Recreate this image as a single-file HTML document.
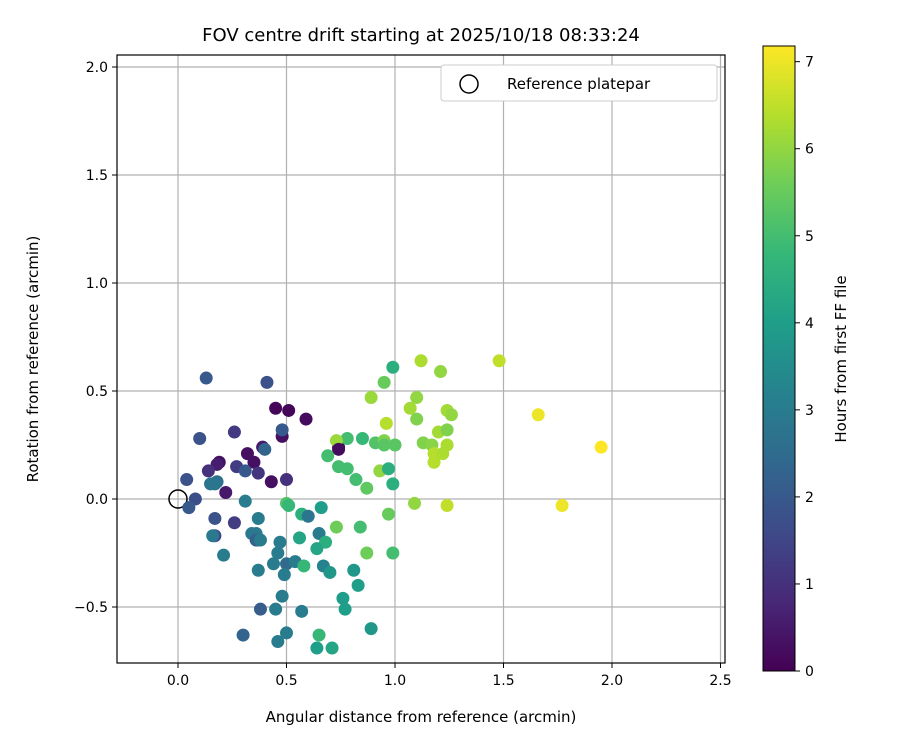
<!DOCTYPE html>
<html><head><meta charset="utf-8"><style>
body{margin:0;background:#fff;font-family:"Liberation Sans","DejaVu Sans",sans-serif}
</style></head><body>
<svg id="chart" width="900" height="750" xmlns="http://www.w3.org/2000/svg" font-family="DejaVu Sans, Liberation Sans, sans-serif"></svg>
<script>
const xs=[0.45,0.51,0.59,0.48,0.74,0.13,0.41,0.48,0.10,0.26,0.39,0.40,0.32,0.35,0.19,0.18,0.14,0.27,0.31,0.37,0.43,0.50,0.04,0.15,0.18,0.17,0.22,0.08,0.05,0.31,0.50,0.51,0.57,0.60,0.66,0.17,0.26,0.37,
0.97,0.17,0.37,0.36,0.73,0.84,0.16,0.34,0.36,0.38,0.47,0.65,0.56,0.68,0.64,0.87,0.99,0.46,0.21,0.44,0.50,0.54,0.58,0.67,0.70,0.49,0.37,0.81,0.83,0.48,0.76,0.77,0.38,0.45,0.57,0.89,0.30,0.50,0.46,0.65,0.64,0.71,
0.99,1.12,1.21,0.95,0.89,1.10,1.07,1.24,1.26,0.96,1.10,0.78,0.73,0.85,0.91,0.95,0.95,1.00,0.74,0.69,1.20,1.24,1.13,1.17,1.24,1.18,1.22,1.18,0.74,0.78,0.82,0.87,0.93,0.97,0.99,1.09,1.24,
1.48,1.66,1.95,1.77];
const ys=[0.42,0.41,0.37,0.29,0.24,0.56,0.54,0.32,0.28,0.31,0.24,0.23,0.21,0.17,0.17,0.16,0.13,0.15,0.13,0.12,0.08,0.09,0.09,0.07,0.08,0.07,0.03,0.00,-0.04,-0.01,-0.02,-0.03,-0.07,-0.08,-0.04,-0.09,-0.11,-0.09,
-0.07,-0.17,-0.19,-0.16,-0.13,-0.13,-0.17,-0.16,-0.19,-0.19,-0.20,-0.16,-0.18,-0.20,-0.23,-0.25,-0.25,-0.25,-0.26,-0.30,-0.30,-0.29,-0.31,-0.31,-0.34,-0.35,-0.33,-0.33,-0.40,-0.45,-0.46,-0.51,-0.51,-0.51,-0.52,-0.60,-0.63,-0.62,-0.66,-0.63,-0.69,-0.69,
0.61,0.64,0.59,0.54,0.47,0.47,0.42,0.41,0.39,0.35,0.37,0.28,0.27,0.28,0.26,0.27,0.25,0.25,0.23,0.20,0.31,0.32,0.26,0.25,0.25,0.21,0.21,0.17,0.15,0.14,0.09,0.05,0.13,0.14,0.07,-0.02,-0.03,
0.64,0.39,0.24,-0.03];
const hours=[0.1,0.1,0.2,0.3,0.2,2.0,1.8,2.0,1.8,1.2,0.5,2.3,0.3,0.3,0.3,0.6,1.0,1.3,2.0,1.1,0.3,1.0,1.8,2.8,2.6,2.8,0.5,1.7,2.0,3.0,5.2,4.8,4.5,2.8,4.0,1.8,1.3,3.0,
5.5,1.5,1.2,2.9,5.6,5.0,2.9,2.9,2.2,3.0,3.0,3.0,4.2,4.5,4.2,5.6,5.0,3.0,3.0,3.0,2.5,3.0,4.8,3.2,3.8,3.0,3.0,3.8,4.0,3.0,4.0,4.0,2.1,3.0,3.0,3.8,2.3,3.0,3.0,4.8,4.0,4.2,
4.5,6.3,6.0,5.5,6.1,6.0,6.2,6.2,6.0,6.4,5.8,5.0,6.1,4.8,5.2,5.8,5.3,5.3,0.2,5.0,6.2,5.8,5.8,5.9,6.3,6.4,6.3,6.4,5.0,5.0,5.0,5.4,6.0,4.5,4.5,6.0,6.5,
6.5,7.0,7.2,7.0];
const xTicks=[0.0,0.5,1.0,1.5,2.0,2.5];
const yTicks=[-0.5,0.0,0.5,1.0,1.5,2.0];
const cTicks=[0,1,2,3,4,5,6,7];

const NS="http://www.w3.org/2000/svg";
const svg=document.getElementById('chart');
const L=117,R=725,T=55,B=663;
const X=v=>178+v*217, Y=v=>499-v*216;
const CB={l:763,r:795,t:46,b:671,max:7.18};
const CY=v=>CB.b-v/CB.max*(CB.b-CB.t);
const vir=[[68,1,84],[72,40,120],[62,74,137],[49,104,142],[38,130,142],[31,158,137],[53,183,121],[109,205,89],[180,222,44],[253,231,37]];
function cmap(h){let t=Math.max(0,Math.min(1,h/CB.max))*(vir.length-1);let i=Math.min(Math.floor(t),vir.length-2),f=t-i;
const c=vir[i].map((a,k)=>Math.round(a+(vir[i+1][k]-a)*f));return `rgb(${c})`;}
function el(tag,attrs,txt){const e=document.createElementNS(NS,tag);for(const k in attrs)e.setAttribute(k,attrs[k]);if(txt!==undefined)e.textContent=txt;svg.appendChild(e);return e;}

el('text',{x:421,y:41,'font-size':'18','text-anchor':'middle',},'FOV centre drift starting at 2025/10/18 08:33:24');
// grid
xTicks.forEach(v=>{const g=el('line',{x1:X(v),x2:X(v),y1:T,y2:B,stroke:'#b0b0b0','stroke-width':1.2});

el('line',{x1:X(v),x2:X(v),y1:B,y2:B+5,stroke:'#000'});
const t=el('text',{x:X(v),y:B+22,'font-size':'14','text-anchor':'middle'},v.toFixed(1));
});
yTicks.forEach(v=>{const g=el('line',{x1:L,x2:R,y1:Y(v),y2:Y(v),stroke:'#b0b0b0','stroke-width':1.2});

el('line',{x1:L-5,x2:L,y1:Y(v),y2:Y(v),stroke:'#000'});
const t=el('text',{x:L-9,y:Y(v)+5,'font-size':'14','text-anchor':'end'},v<0?'\u2212'+Math.abs(v).toFixed(1):v.toFixed(1));
});
// reference marker
el('circle',{cx:X(0),cy:Y(0),r:9,fill:'none',stroke:'#000','stroke-width':1.5,});
// points
for(let i=0;i<xs.length;i++){
const c=el('circle',{cx:X(xs[i]),cy:Y(ys[i]),r:6.5,fill:cmap(hours[i])});

}
el('rect',{x:L,y:T,width:R-L,height:B-T,fill:'none',stroke:'#000','stroke-width':1.2,});
el('text',{x:421,y:722,'font-size':'15','text-anchor':'middle',},'Angular distance from reference (arcmin)');
el('text',{x:0,y:0,'font-size':'15','text-anchor':'middle',transform:'translate(38,359) rotate(-90)',},'Rotation from reference (arcmin)');
// legend
el('rect',{x:441,y:65,width:276,height:36,rx:3,fill:'#fff',stroke:'#ccc',});
el('circle',{cx:469,cy:84,r:9,fill:'none',stroke:'#000','stroke-width':1.5,});
el('text',{x:507,y:89,'font-size':'15',},'Reference platepar');
// colorbar
const defs=el('defs',{});const lg=document.createElementNS(NS,'linearGradient');lg.setAttribute('id','vg');lg.setAttribute('x1','0');lg.setAttribute('y1','1');lg.setAttribute('x2','0');lg.setAttribute('y2','0');defs.appendChild(lg);
vir.forEach((c,i)=>{const s=document.createElementNS(NS,'stop');s.setAttribute('offset',i/(vir.length-1));s.setAttribute('stop-color',`rgb(${c})`);lg.appendChild(s);});
el('rect',{x:CB.l,y:CB.t,width:CB.r-CB.l,height:CB.b-CB.t,fill:'url(#vg)',stroke:'#000','stroke-width':1,});
cTicks.forEach(v=>{el('line',{x1:CB.r,x2:CB.r+5,y1:CY(v),y2:CY(v),stroke:'#000'});
const t=el('text',{x:CB.r+10,y:CY(v)+5,'font-size':'14'},String(v));
});
el('text',{x:0,y:0,'font-size':'15','text-anchor':'middle',transform:'translate(846,359) rotate(-90)',},'Hours from first FF file');
</script>
</body></html>
